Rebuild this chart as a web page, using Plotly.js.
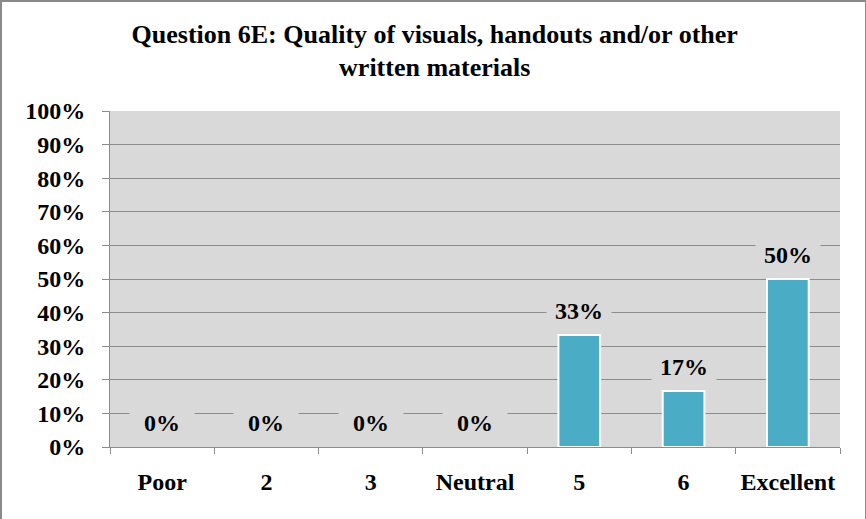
<!DOCTYPE html>
<html>
<head>
<meta charset="utf-8">
<script src="https://cdn.plot.ly/plotly-3.0.1.min.js"></script>
<style>
  html, body { margin: 0; padding: 0; background: #fff; }
  #wrap { position: relative; width: 866px; height: 519px; overflow: hidden; }
  #chart { position: absolute; left: 0; top: 0; width: 866px; height: 519px; }
  #frame { position: absolute; left: 0; top: 0; width: 863px; height: 530px;
           border-left: 2px solid #8a8a8a; border-top: 2px solid #8a8a8a; border-right: 1px solid #8a8a8a;
           pointer-events: none; }
</style>
</head>
<body>
<div id="wrap">
  <div id="chart"></div>
  <div id="frame"></div>
</div>
<script>
const categories = ["Poor", "2", "3", "Neutral", "5", "6", "Excellent"];
const values = [0, 0, 0, 0, 0.333, 0.167, 0.5];
const labels = ["0%", "0%", "0%", "0%", "33%", "17%", "50%"];
const yTicks = [0, 0.1, 0.2, 0.3, 0.4, 0.5, 0.6, 0.7, 0.8, 0.9, 1.0];
const yTickLabels = ["0%", "10%", "20%", "30%", "40%", "50%", "60%", "70%", "80%", "90%", "100%"];

const fontFamily = "Liberation Serif, Times New Roman, serif";

const trace = {
  type: "bar",
  x: categories.map((c, i) => i),
  y: values,
  marker: { color: "#4BACC6", line: { color: "#ffffff", width: values.map(v => v > 0 ? 2 : 0) } },
  hoverinfo: "none"
};

const annotations = categories.map((c, i) => ({
  x: i, y: values[i], xref: "x", yref: "y",
  text: "<b>" + labels[i] + "</b>",
  showarrow: false,
  yanchor: "bottom",
  yshift: 10,
  bgcolor: "#D9D9D9",
  width: 64,
  height: 27,
  borderpad: 0,
  font: { family: fontFamily, size: 24, color: "#000" }
}));

const layout = {
  width: 866,
  height: 519,
  margin: { l: 110, r: 26, t: 111, b: 72 },
  paper_bgcolor: "#ffffff",
  plot_bgcolor: "#D9D9D9",
  showlegend: false,
  bargap: 0.6,
  font: { family: fontFamily },
  title: {
    text: "<b>Question 6E: Quality of visuals, handouts and/or other<br>written materials</b>",
    x: 0.502, xanchor: "center", xref: "container",
    y: 0.918, yanchor: "top", yref: "container",
    font: { family: fontFamily, size: 26, color: "#000" }
  },
  xaxis: {
    type: "linear",
    range: [-0.5, 6.5],
    tickvals: categories.map((c, i) => i),
    ticktext: categories.map(c => "<b>" + c + "</b>"),
    ticks: "",
    showgrid: false,
    showline: true,
    linecolor: "#8c8c8c",
    linewidth: 1,
    zeroline: false,
    ticklabelstandoff: 13,
    tickfont: { family: fontFamily, size: 24, color: "#000" },
    minor: { tickvals: [-0.5, 0.5, 1.5, 2.5, 3.5, 4.5, 5.5, 6.5], ticks: "outside", ticklen: 6, tickcolor: "#8c8c8c", showgrid: false },
    fixedrange: true
  },
  yaxis: {
    range: [0, 1],
    tickvals: yTicks,
    ticktext: yTickLabels.map(t => "<b>" + t + "</b>"),
    ticks: "outside",
    ticklen: 7,
    tickcolor: "#8c8c8c",
    showgrid: true,
    gridcolor: "#8c8c8c",
    gridwidth: 1,
    showline: true,
    linecolor: "#8c8c8c",
    linewidth: 1,
    zeroline: false,
    ticklabelstandoff: 12,
    tickfont: { family: fontFamily, size: 24, color: "#000" },
    fixedrange: true
  },
  annotations: annotations
};

Plotly.newPlot("chart", [trace], layout, { displayModeBar: false, staticPlot: true });
</script>
</body>
</html>
